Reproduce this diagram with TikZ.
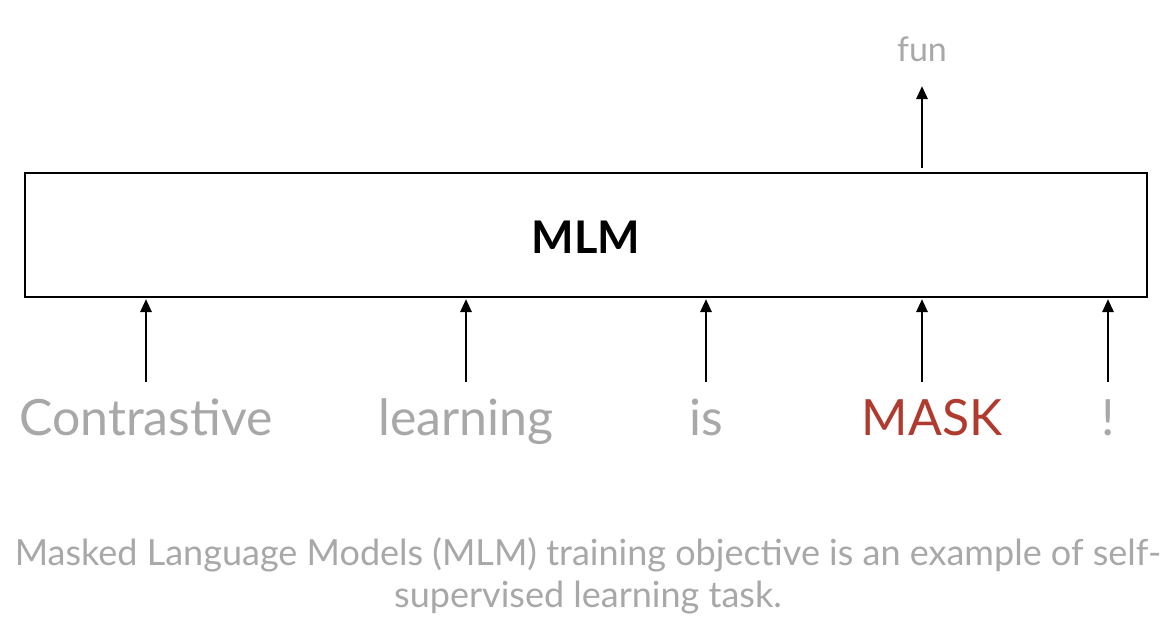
\documentclass[tikz,border=0pt]{standalone}
\usepackage{fontspec}
\setmainfont{Lato}
\usetikzlibrary{arrows.meta}
\definecolor{txtgray}{HTML}{A8A8A8}
\definecolor{maskred}{HTML}{B03A2E}
\tikzset{
  box/.style={draw=black, line width=2.8pt, fill=white},
  arr/.style={-{Triangle[length=13pt,width=11pt]}, line width=2.6pt, black},
  word/.style={text=txtgray, font=\fontsize{50}{60}\selectfont, anchor=base},
}
\begin{document}
\begin{tikzpicture}[x=1pt,y=-1pt]
\useasboundingbox[fill=white] (0,0) rectangle (1176,632);
\node[box, minimum width=1122pt, minimum height=124pt, inner sep=0pt] (mlm) at (586,235) {};
\node[font=\fontsize{45}{54}\selectfont\bfseries] (mlmtxt) at (586,237) {MLM};
\node[word] (w1) at (146,435) {Contrastive};
\node[word] (w2) at (466,435) {learning};
\node[word] (w3) at (706,435) {is};
\node[word, text=maskred] (w4) at (932,435) {MASK};
\node[word] (w5) at (1108,435) {!};
\node[text=txtgray, font=\fontsize{34}{40}\selectfont, anchor=base] (fun) at (922,61) {fun};
\coordinate (s1) at (146,382); \coordinate (e1) at (146,299);
\coordinate (s2) at (466,382); \coordinate (e2) at (466,299);
\coordinate (s3) at (706,382); \coordinate (e3) at (706,299);
\coordinate (s4) at (922,382); \coordinate (e4) at (922,299);
\coordinate (s5) at (1108,382); \coordinate (e5) at (1108,299);
\coordinate (s6) at (922,168); \coordinate (e6) at (922,86);
\foreach \i in {1,...,6} {\draw[arr] (s\i) -- (e\i);}
\node[text=txtgray, font=\fontsize{36}{42}\selectfont, align=center, anchor=north, inner sep=0pt] (cap) at (588,537) {Masked Language Models (MLM) training objective is an example of self-\\supervised learning task.};
\end{tikzpicture}
\end{document}
